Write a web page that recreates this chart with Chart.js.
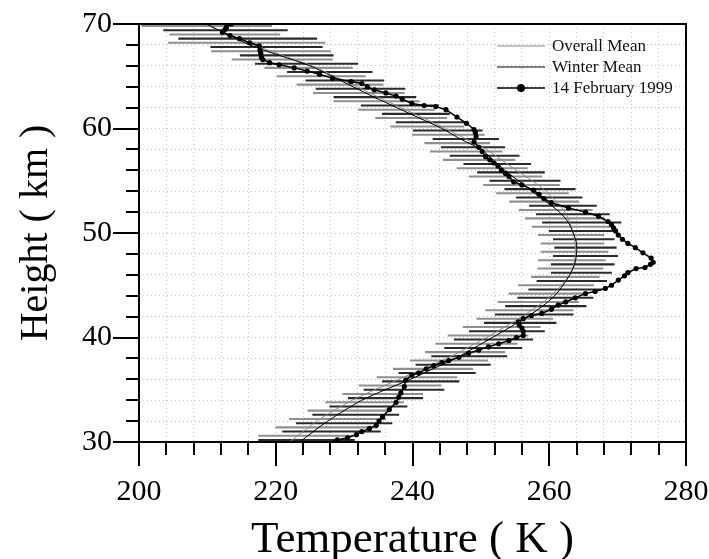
<!DOCTYPE html>
<html>
<head>
<meta charset="utf-8">
<title>Temperature profile</title>
<script src="https://cdn.jsdelivr.net/npm/chart.js@4.4.1/dist/chart.umd.min.js"></script>
<style>
  body { margin: 0; background: #fff; }
  #tempChart { display: block; }
</style>
</head>
<body>
<canvas id="tempChart" width="709" height="559"></canvas>
<script>
const xTickLabels = [200, 220, 240, 260, 280];
const yTickLabels = [30, 40, 50, 60, 70];

// mean profiles, one value per km
const meanHeights = [30, 31, 32, 33, 34, 35, 36, 37, 38, 39, 40, 41, 42, 43, 44, 45, 46, 47, 48, 49, 50,
  51, 52, 53, 54, 55, 56, 57, 58, 59, 60, 61, 62, 63, 64, 65, 66, 67, 68, 69, 70];
const overallMean = [222, 224, 226, 228.5, 231.2, 234.5, 238, 241.5, 245, 248, 250.8, 253.5, 256, 258.3,
  260.3, 261.8, 263, 263.6, 263.8, 263.8, 263.5, 263, 262.3, 261, 259.5, 257.5, 255.2, 253, 250.8, 247.8,
  244.8, 241.6, 238.3, 235, 231.9, 228.6, 225.3, 221, 216.8, 213.2, 209.5];
const winterMean = [223.5, 225.5, 227.6, 230, 232.6, 236, 239.7, 243, 246.3, 249, 251.7, 254.3, 256.8, 259,
  260.8, 262, 263, 263.7, 264, 264, 263.5, 262.8, 261.5, 259.5, 257.5, 255.5, 253.5, 251.8, 250, 247,
  244.3, 241, 237.7, 234.4, 231.3, 228.2, 225, 220.5, 216.2, 213, 209.8];

// 14 February 1999 profile
const febHeights = [30.0, 30.2, 30.4, 30.7, 31.0, 31.3, 31.6, 32.0, 32.4, 33.1, 33.8, 34.3, 34.7, 35.3, 35.9,
  36.4, 36.6, 37.0, 37.3, 37.6, 37.8, 38.1, 38.5, 38.8, 39.1, 39.4, 39.7, 40.0, 40.2, 40.6, 40.9, 41.2, 41.5,
  41.8, 42.1, 42.3, 42.7, 43.1, 43.4, 43.8, 44.2, 44.4, 44.7, 45.0, 45.5, 45.9, 46.2, 46.6, 46.7, 47.0, 47.2,
  47.6, 48.1, 48.6, 49.0, 49.4, 49.8, 50.2, 50.5, 50.8, 51.1, 51.6, 52.0, 52.4, 52.9, 53.3, 53.7, 54.1, 54.6,
  54.9, 55.4, 55.7, 56.0, 56.4, 56.7, 57.0, 57.3, 57.8, 58.2, 58.7, 59.2, 59.6, 59.9, 60.5, 61.1, 61.8, 62.1,
  62.2, 62.4, 62.8, 63.1, 63.4, 63.7, 64.0, 64.3, 64.5, 64.8, 65.2, 65.5, 65.8, 66.1, 66.3, 66.6, 66.8, 67.2,
  67.5, 67.9, 68.2, 68.6, 68.9, 69.2, 69.5, 69.7, 70.0];
const febTemps = [228.7, 229.0, 230.5, 231.8, 232.6, 233.7, 234.7, 235.1, 235.6, 236.6, 237.6, 238.0, 238.3,
  238.8, 239.0, 239.9, 240.9, 242.0, 243.1, 244.3, 245.3, 246.8, 248.2, 249.7, 251.1, 252.6, 254.1, 255.2,
  256.2, 256.2, 256.0, 255.6, 255.5, 256.2, 257.4, 258.9, 260.3, 261.3, 262.4, 263.8, 265.3, 266.7, 268.2,
  269.1, 270.1, 271.0, 271.5, 272.7, 274.0, 274.8, 275.2, 274.9, 273.7, 272.6, 271.5, 270.7, 270.1, 269.7,
  269.4, 269.1, 268.6, 267.2, 265.3, 262.8, 260.3, 259.2, 258.5, 257.7, 256.0, 254.8, 254.1, 253.6, 253.0,
  252.5, 251.9, 251.3, 250.7, 250.2, 249.7, 249.0, 249.3, 249.2, 249.0, 247.9, 246.5, 244.9, 243.4, 241.7,
  239.9, 238.5, 237.6, 236.1, 234.4, 233.4, 232.6, 231.0, 228.3, 226.4, 224.6, 222.7, 220.5, 219.1, 218.1,
  217.9, 217.8, 217.7, 217.6, 216.2, 214.7, 213.3, 212.2, 212.6, 212.8, 213.5];

// spread bars, winter (dark)
const winterBarHeights = [30.2, 31.0, 31.8, 32.6, 33.4, 34.2, 35.0, 35.8, 36.6, 37.4, 38.2, 39.0, 39.8, 40.6,
  41.4, 42.2, 43.0, 43.8, 44.6, 45.4, 46.2, 47.0, 47.8, 48.6, 49.4, 50.2, 51.0, 51.8, 52.6, 53.4, 54.2, 55.0,
  55.8, 56.6, 57.4, 58.2, 59.0, 59.8, 60.6, 61.4, 62.2, 63.0, 63.8, 64.6, 65.4, 66.2, 67.0, 67.8, 68.6, 69.4];
const winterBarLow = [217.5, 221.0, 223.0, 225.4, 227.9, 230.6, 232.9, 235.6, 238.0, 240.5, 242.8, 244.7,
  246.1, 248.3, 250.5, 252.1, 253.6, 255.4, 257.0, 258.2, 260.3, 260.3, 260.6, 260.8, 260.6, 260.0, 259.0,
  258.1, 257.1, 255.2, 253.5, 251.3, 249.5, 247.5, 245.5, 244.2, 243.0, 240.1, 237.6, 235.6, 232.5, 228.5,
  225.9, 224.4, 221.7, 217.0, 214.8, 210.5, 205.8, 203.6];
const winterBarHigh = [231.5, 235.3, 237.0, 238.0, 239.2, 241.5, 244.6, 246.8, 249.2, 251.4, 253.8, 256.0,
  257.6, 259.3, 261.0, 263.5, 265.4, 266.4, 267.7, 268.4, 269.1, 269.5, 270.0, 269.8, 269.5, 269.8, 270.5,
  268.8, 266.9, 264.8, 263.8, 261.6, 259.3, 257.3, 255.6, 253.5, 252.6, 250.2, 247.8, 245.4, 243.8, 240.5,
  238.9, 235.8, 234.1, 232.0, 228.4, 226.8, 226.0, 221.7];

// spread bars, overall (light)
const overallBarHeights = [30.6, 31.4, 32.2, 33.0, 33.8, 34.6, 35.4, 36.2, 37.0, 37.8, 38.6, 39.4, 40.2, 41.0,
  41.8, 42.6, 43.4, 44.2, 45.0, 45.8, 46.6, 47.4, 48.2, 49.0, 49.8, 50.6, 51.4, 52.2, 53.0, 53.8, 54.6, 55.4,
  56.2, 57.0, 57.8, 58.6, 59.4, 60.2, 61.0, 61.8, 62.6, 63.4, 64.2, 65.0, 65.8, 66.6, 67.4, 68.2, 69.0, 69.8];
const overallBarLow = [217.5, 220.0, 222.0, 224.7, 227.3, 229.8, 232.2, 234.8, 237.2, 239.7, 241.9, 243.4,
  245.2, 247.4, 249.4, 250.7, 252.5, 254.1, 255.5, 257.4, 258.3, 258.4, 258.8, 258.8, 258.4, 257.5, 256.5,
  255.6, 254.2, 252.3, 250.4, 248.3, 246.5, 244.5, 242.6, 241.8, 240.0, 236.8, 234.6, 232.1, 228.5, 225.5,
  223.1, 220.2, 218.4, 213.6, 210.6, 204.3, 204.5, 200.4];
const overallBarHigh = [231.3, 234.8, 236.1, 236.9, 238.7, 241.5, 244.2, 246.5, 248.8, 251.0, 253.5, 255.3,
  256.9, 258.7, 260.5, 263.5, 264.3, 265.5, 266.5, 267.3, 267.8, 268.2, 268.6, 268.0, 268.0, 268.9, 268.1,
  266.3, 264.3, 262.8, 261.5, 258.9, 256.8, 255.0, 253.1, 251.3, 250.5, 247.5, 245.0, 243.2, 241.0, 238.8,
  235.7, 233.1, 231.2, 228.3, 228.0, 227.2, 220.6, 219.4];

const legendOrder = ['Overall Mean', 'Winter Mean', '14 February 1999'];

Chart.defaults.font.family = '"Liberation Serif", "Times New Roman", serif';
Chart.defaults.color = '#000';

// outward ticks (long at labelled values) and the frame
const axisTicks = {
  id: 'axisTicks',
  afterDraw(chart) {
    const { ctx, chartArea: a, scales: { x, y } } = chart;
    ctx.save();
    ctx.strokeStyle = '#000';
    ctx.lineWidth = 2;
    ctx.beginPath();
    x.ticks.forEach(t => {
      const px = Math.round(x.getPixelForValue(t.value));
      const len = xTickLabels.includes(t.value) ? 24 : 13;
      ctx.moveTo(px, a.bottom);
      ctx.lineTo(px, a.bottom + len);
    });
    y.ticks.forEach(t => {
      const py = Math.round(y.getPixelForValue(t.value));
      const len = yTickLabels.includes(t.value) ? 26 : 13;
      ctx.moveTo(a.left - len, py);
      ctx.lineTo(a.left, py);
    });
    ctx.stroke();
    ctx.strokeRect(a.left, a.top, a.right - a.left, a.bottom - a.top);
    ctx.restore();
  }
};

// legend inside the plot, top right
const inlineLegend = {
  id: 'inlineLegend',
  afterDraw(chart) {
    const { ctx, chartArea: a } = chart;
    ctx.save();
    ctx.font = '17px "Liberation Serif", serif';
    ctx.textBaseline = 'middle';
    legendOrder.forEach((label, i) => {
      const ds = chart.data.datasets.find(d => d.label === label);
      const yy = a.top + 22 + i * 21;
      const x0 = a.right - 189;
      const x1 = a.right - 141;
      ctx.strokeStyle = ds.borderColor;
      ctx.lineWidth = ds.borderWidth;
      ctx.beginPath();
      ctx.moveTo(x0, yy);
      ctx.lineTo(x1, yy);
      ctx.stroke();
      if (ds.pointRadius > 0) {
        ctx.fillStyle = ds.pointBackgroundColor;
        ctx.beginPath();
        ctx.arc((x0 + x1) / 2, yy, 4, 0, Math.PI * 2);
        ctx.fill();
      }
      ctx.fillStyle = '#111';
      ctx.fillText(label, a.right - 134, yy + 1);
    });
    ctx.restore();
  }
};

const toPoints = (hs, ts) => hs.map((h, i) => ({ x: ts[i], y: h }));
const toBars = (hs, lo, hi) => hs.map((h, i) => ({ x: [lo[i], hi[i]], y: h }));

new Chart(document.getElementById('tempChart'), {
  type: 'scatter',
  data: {
    datasets: [
      {
        type: 'line',
        label: '14 February 1999',
        data: toPoints(febHeights, febTemps),
        borderColor: '#000',
        borderWidth: 1.5,
        pointRadius: 2.6,
        pointBackgroundColor: '#000',
        pointBorderColor: '#000',
        pointBorderWidth: 0,
        tension: 0,
        order: 0
      },
      {
        type: 'line',
        label: 'Winter Mean',
        data: toPoints(meanHeights, winterMean),
        borderColor: '#000',
        borderWidth: 1,
        pointRadius: 0,
        tension: 0.3,
        order: 1
      },
      {
        type: 'line',
        label: 'Overall Mean',
        data: toPoints(meanHeights, overallMean),
        borderColor: '#8a8a8a',
        borderWidth: 1,
        pointRadius: 0,
        tension: 0.3,
        order: 2
      },
      {
        type: 'bar',
        label: 'Winter spread',
        indexAxis: 'y',
        grouped: false,
        barThickness: 1.4,
        data: toBars(winterBarHeights, winterBarLow, winterBarHigh),
        backgroundColor: '#2a2a2a',
        order: 3
      },
      {
        type: 'bar',
        label: 'Overall spread',
        indexAxis: 'y',
        grouped: false,
        barThickness: 1.4,
        data: toBars(overallBarHeights, overallBarLow, overallBarHigh),
        backgroundColor: '#8f8f8f',
        order: 4
      }
    ]
  },
  options: {
    responsive: false,
    animation: false,
    layout: { padding: { top: 24, right: 23, left: 0, bottom: 0 } },
    plugins: {
      legend: { display: false },
      tooltip: { enabled: false }
    },
    scales: {
      x: {
        type: 'linear',
        min: 200,
        max: 280,
        offset: false,
        ticks: {
          stepSize: 4,
          autoSkip: false,
          maxRotation: 0,
          padding: 32,
          font: { size: 30 },
          callback: v => xTickLabels.includes(v) ? v : ''
        },
        grid: { color: '#c4c4c4', lineWidth: 1, drawTicks: false, offset: false },
        border: { display: false, dash: [1, 3] },
        title: {
          display: true,
          text: 'Temperature ( K )',
          font: { size: 45, lineHeight: 0.85 },
          padding: 0
        },
        afterFit: s => {
          s.height = 117;
          s.paddingLeft = 0;
          s.paddingRight = 0;
        }
      },
      y: {
        type: 'linear',
        min: 30,
        max: 70,
        offset: false,
        ticks: {
          stepSize: 2,
          autoSkip: false,
          padding: 27,
          font: { size: 30 },
          callback: v => yTickLabels.includes(v) ? v : ''
        },
        grid: { color: '#c4c4c4', lineWidth: 1, drawTicks: false, offset: false },
        border: { display: false, dash: [1, 3] },
        title: {
          display: true,
          text: 'Height ( km )',
          font: { size: 40, lineHeight: 1.2 },
          padding: { top: 12, bottom: 0 }
        },
        afterFit: s => {
          s.width = 139;
          s.paddingTop = 0;
          s.paddingBottom = 0;
        }
      }
    }
  },
  plugins: [axisTicks, inlineLegend]
});
</script>
</body>
</html>
